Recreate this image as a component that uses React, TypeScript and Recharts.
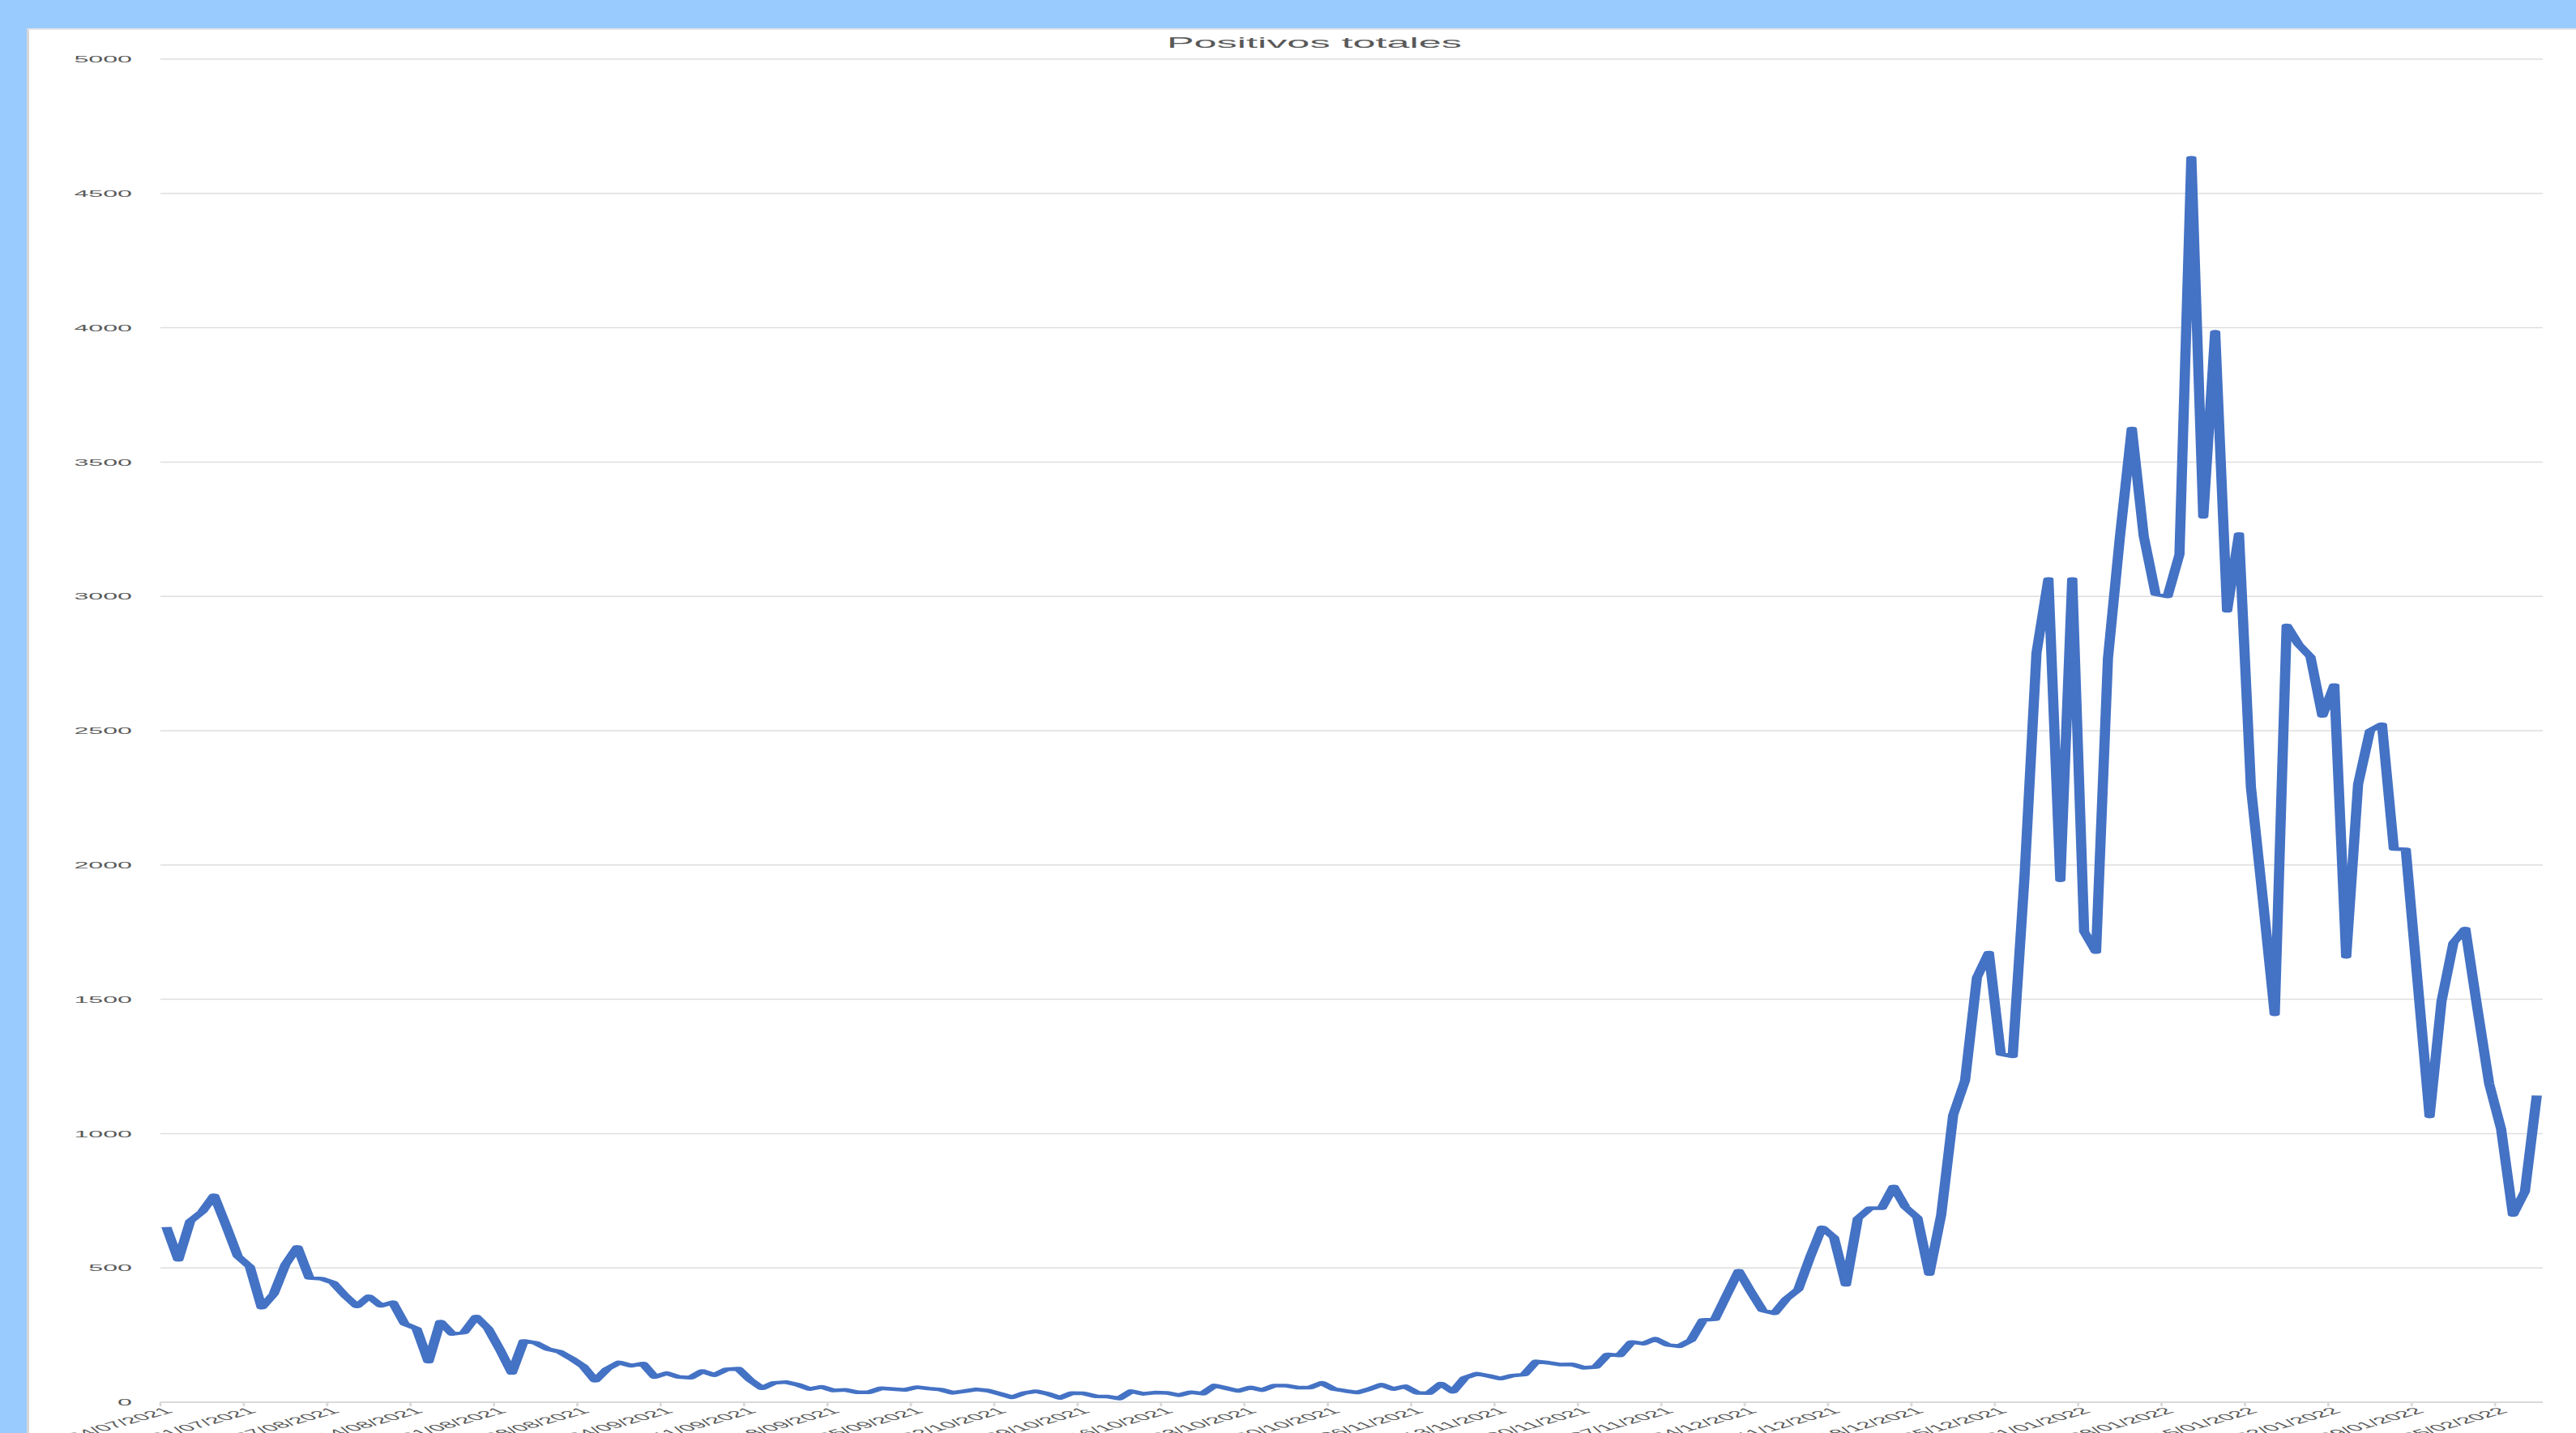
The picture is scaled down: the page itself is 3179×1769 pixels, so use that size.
import { LineChart, Line, XAxis, YAxis, CartesianGrid } from 'recharts'

// Positivos diarios, un array por mes (24/07/2021 - 08/02/2022)
const jul2021 = [652, 530, 674, 709, 770, 659, 543, 505]
const aug2021 = [352, 402, 513, 578, 463, 460, 445, 397, 357, 394, 359, 372, 292, 274, 151, 300, 254, 260, 319, 275, 196, 109, 228, 221, 198, 188, 163, 134, 80, 124, 148]
const sep2021 = [136, 144, 94, 108, 94, 91, 116, 101, 122, 125, 83, 52, 72, 75, 65, 49, 57, 44, 46, 37, 37, 52, 49, 46, 56, 51, 47, 35, 41, 48]
const oct2021 = [43, 31, 18, 34, 41, 31, 16, 34, 33, 22, 21, 14, 41, 31, 36, 35, 26, 37, 32, 62, 52, 42, 55, 45, 62, 62, 54, 54, 72, 49, 42]
const nov2021 = [36, 49, 65, 49, 59, 35, 34, 69, 39, 91, 106, 98, 88, 99, 103, 152, 147, 140, 141, 128, 131, 178, 174, 224, 218, 236, 214, 208, 231, 306]
const dec2021 = [309, 399, 489, 413, 342, 331, 385, 420, 541, 651, 613, 437, 684, 722, 722, 803, 726, 687, 477, 698, 1068, 1197, 1581, 1674, 1296, 1288, 1960, 2790, 3065, 1943, 3065]
const jan2022 = [1752, 1676, 2770, 3220, 3625, 3225, 3008, 3000, 3156, 4633, 3296, 3985, 2946, 3232, 2290, 1873, 1444, 2892, 2821, 2775, 2555, 2670, 1658, 2301, 2500, 2524, 2060, 2058, 1562, 1064, 1492]
const feb2022 = [1710, 1763, 1470, 1186, 1018, 697, 784, 1142]

// mes, año, primer día, valores
const months: [string, string, number, number[]][] = [
  ['07', '2021', 24, jul2021],
  ['08', '2021', 1, aug2021],
  ['09', '2021', 1, sep2021],
  ['10', '2021', 1, oct2021],
  ['11', '2021', 1, nov2021],
  ['12', '2021', 1, dec2021],
  ['01', '2022', 1, jan2022],
  ['02', '2022', 1, feb2022],
]

const yTicks = [0, 500, 1000, 1500, 2000, 2500, 3000, 3500, 4000, 4500, 5000]

const data = months.flatMap(([mm, yyyy, first, values]) =>
  values.map((v, i) => ({
    fecha: `${String(first + i).padStart(2, '0')}/${mm}/${yyyy}`,
    positivos: v,
  }))
)

// the original picture is stretched horizontally, so the chart is drawn narrow and scaled
const S = 2.8
const W = 3179 / S
const HALF = (3138 - 198) / S / data.length / 2
const FONT = '"Liberation Sans", Arial, sans-serif'

const YTick = (props: any) => {
  const { x, y, payload } = props
  return (
    <text x={x} y={y} dy="0.36em" textAnchor="end" fontSize={11.5} fill="#595959" fontFamily={FONT}>
      {payload.value}
    </text>
  )
}

const XTick = (props: any) => {
  const { x, y, payload } = props
  return (
    <g transform={`translate(${x},${y})`}>
      <line x1={-HALF} x2={-HALF} y1={0} y2={5} stroke="#d9d9d9" strokeWidth={1} />
      <text transform="translate(1,9) rotate(-38)" dy="0.35em" textAnchor="end" fontSize={11} fill="#595959" fontFamily={FONT}>
        {payload.value}
      </text>
    </g>
  )
}

export default function App() {
  return (
    <div style={{ position: 'absolute', left: 0, top: 0, width: 3179, height: 1769, background: '#9ACBFF', overflow: 'hidden' }}>
      <div
        style={{
          position: 'absolute',
          left: 33,
          top: 35,
          width: 3300,
          height: 1800,
          background: '#ffffff',
          borderLeft: '3px solid #d6d6d6',
          borderTop: '2px solid #e6e6e6',
        }}
      />
      <div style={{ position: 'absolute', left: 0, top: 0, width: W, height: 1769, transform: `scaleX(${S})`, transformOrigin: '0 0' }}>
        <LineChart width={W} height={1769} data={data} margin={{ top: 73, right: W - 3138 / S, bottom: 0, left: 0 }}>
          <CartesianGrid vertical={false} stroke="#dedede" strokeWidth={1.5} />
          <XAxis
            dataKey="fecha"
            interval={6}
            height={38}
            padding={{ left: HALF, right: HALF }}
            tick={<XTick />}
            tickLine={false}
            tickSize={0}
            tickMargin={0}
            stroke="#d9d9d9"
            strokeWidth={2}
          />
          <YAxis
            domain={[0, 5000]}
            ticks={yTicks}
            width={198 / S}
            axisLine={false}
            tickLine={false}
            tickSize={0}
            tickMargin={12.5}
            tick={<YTick />}
          />
          <Line
            type="linear"
            dataKey="positivos"
            stroke="#4472C4"
            strokeWidth={4.5}
            strokeLinejoin="round"
            dot={false}
            isAnimationActive={false}
          />
        </LineChart>
        <svg width={W} height={80} style={{ position: 'absolute', left: 0, top: 0 }}>
          <text x={1622 / S} y={59} textAnchor="middle" fontSize={18} fill="#595959" fontFamily={FONT}>
            Positivos totales
          </text>
        </svg>
      </div>
    </div>
  )
}
